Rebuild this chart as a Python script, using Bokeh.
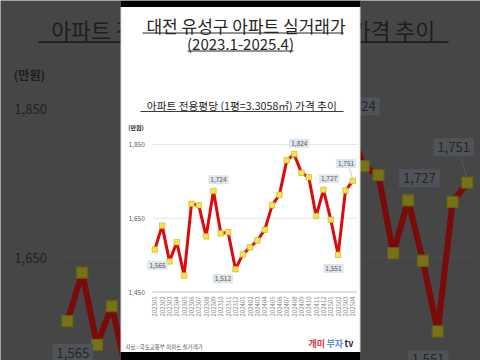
import math
from bokeh.plotting import figure
from bokeh.models import Range1d, ColumnDataSource
from bokeh.embed import file_html
from bokeh.resources import INLINE
from bokeh.core.properties import value

# ---------------- data ----------------
months = ["202301", "202302", "202303", "202304", "202305", "202306",
          "202307", "202308", "202309", "202310", "202311", "202312",
          "202401", "202402", "202403", "202404", "202405", "202406",
          "202407", "202408", "202409", "202410", "202411", "202412",
          "202501", "202502", "202503", "202504"]
prices = [1565, 1630, 1533, 1585, 1495, 1689, 1685, 1601, 1724, 1609, 1612, 1512,
          1552, 1571, 1590, 1619, 1685, 1714, 1807, 1824, 1773, 1761, 1656, 1727,
          1646, 1551, 1725, 1751]
y_ticks = [1450, 1650, 1850]
y_tick_labels = ["1,450", "1,650", "1,850"]
label_idx = [0, 8, 11, 19, 23, 25, 27]
title_line1 = "대전 유성구 아파트 실거래가"
title_line2 = "(2023.1-2025.4)"
chart_title = "아파트 전용평당 (1평=3.3058㎡) 가격 추이"
unit_label = "(만원)"
source_note = "자료 : 국토교통부 아파트 실거래가"
logo_parts = ["개미", "부자", "tv"]

# ---------------- layout / style ----------------
FONT = "Noto Sans CJK KR"
W, H = 480, 360
OX, OY = 0, 0
X0, KX = 154.3, 198.0 / 27      # page x of first month, px per month
Y0, KY, BASE = 291.5, 0.36875, 1450  # page y of base value, px per unit
CX, CY, S = 240.0, 179.0, 2.02   # enlarged blurred background
CARD_L, CARD_R = 120.5, 359.5
label_dx = [2.7, 5, -12.5, 5.2, 5.6, -4.7, -6.8]
label_dy = [15.7, -11.3, 9.7, -10.8, -11, 13.7, -17.5]

p = figure(width=W, height=H, output_backend="svg", toolbar_location=None,
           x_range=Range1d(OX, OX + W), y_range=Range1d(OY + H, OY),
           x_axis_type=None, y_axis_type=None, min_border=0)
p.grid.visible = False
p.outline_line_color = None
p.background_fill_color = "#464646"
p.border_fill_color = "#464646"


def ranges(s):
    x0 = CX + s * (X0 - CX)
    kx = s * KX
    y0 = CY + s * (Y0 - CY)
    ky = s * KY
    xr = Range1d((OX - x0) / kx, (OX + W - x0) / kx)
    yr = Range1d(BASE - (OY + H - y0) / ky, BASE + (y0 - OY) / ky)
    return xr, yr, x0, kx, y0, ky


bxr, byr, BX0, BKX, BY0, BKY = ranges(S)
ixr, iyr, IX0, IKX, IY0, IKY = ranges(1.0)
p.extra_x_ranges = {"bx": bxr, "ix": ixr}
p.extra_y_ranges = {"by": byr, "iy": iyr}


def zx(x, s):
    return CX + s * (x - CX)


def zy(y, s):
    return CY + s * (y - CY)


def draw_chart(xr, yr, s, c, x0, kx, y0, ky):
    x_lo, x_hi = -0.35, 27.6
    p.segment(x0=[x_lo] * 2, x1=[x_hi] * 2, y0=y_ticks[1:], y1=y_ticks[1:],
              x_range_name=xr, y_range_name=yr, line_color=c["grid"], line_width=1 * s)
    p.segment(x0=[x_lo], x1=[x_hi], y0=y_ticks[:1], y1=y_ticks[:1],
              x_range_name=xr, y_range_name=yr, line_color=c["axis"], line_width=1 * s)
    # y tick labels
    p.text(x=[zx(128, s)] * len(y_ticks), y=y_ticks, text=y_tick_labels,
           y_range_name=yr, text_font=value(FONT), text_font_size=f"{6.5 * s:.1f}px",
           text_color=c["tick"], text_align="left", text_baseline="middle")
    # unit
    p.text(x=[zx(135.5, s)], y=[zy(127, s)], text=[unit_label], text_font=value(FONT),
           text_font_size=f"{6 * s:.1f}px", text_font_style="bold", text_color=c["title"],
           text_align="center", text_baseline="middle")
    # chart title + underline
    p.text(x=[zx(241.3, s)], y=[zy(104.5, s)], text=[chart_title], text_font=value(FONT),
           text_font_size=f"{10.7 * s:.1f}px", text_color=c["title"],
           text_align="center", text_baseline="middle")
    p.segment(x0=[zx(140, s)], x1=[zx(343, s)], y0=[zy(111, s)], y1=[zy(111, s)],
              line_color=c["title"], line_width=0.9 * s)
    # leader line for last label
    li = label_idx[-1]
    px = x0 + kx * li
    py = y0 - ky * (prices[li] - BASE)
    p.segment(x0=[px - 3.0 * s], y0=[py - 12.5 * s], x1=[px - 0.3 * s], y1=[py - 2 * s],
              line_color=c["leader"], line_width=0.6 * s)
    # series
    idx = list(range(len(prices)))
    p.line(idx, prices, x_range_name=xr, y_range_name=yr, line_color=c["line"],
           line_width=3 * s, line_join="round")
    p.scatter(idx, prices, x_range_name=xr, y_range_name=yr, marker="square",
              size=5.5 * s, fill_color=c["mfill"], line_color=c["mline"], line_width=0.6 * s)
    # data labels (only those that land on the canvas)
    keep = []
    for k, i in enumerate(label_idx):
        ly = y0 - ky * (prices[i] - BASE) + label_dy[k] * s
        lx = x0 + kx * i + label_dx[k] * s
        if OY <= ly <= OY + H and OX <= lx <= OX + W:
            keep.append(k)
    src = ColumnDataSource(dict(
        x=[label_idx[k] for k in keep], y=[prices[label_idx[k]] for k in keep],
        t=[f"{prices[label_idx[k]]:,}" for k in keep],
        dx=[label_dx[k] * s for k in keep], dy=[label_dy[k] * s for k in keep]))
    p.text(x="x", y="y", text="t", x_offset="dx", y_offset="dy", source=src,
           x_range_name=xr, y_range_name=yr, text_font=value(FONT),
           text_font_size=f"{6.5 * s:.1f}px", text_color=c["lbl_txt"],
           text_align="center", text_baseline="middle",
           background_fill_color=c["lbl_bg"], padding=round(2 * s))


dim = dict(grid="#4a4a4a", axis="#505050", tick="#232323", title="#1e1e1e",
           leader="#565656", line="#7a0b0b", mfill="#77721a", mline="#66600f",
           lbl_bg="#4f5358", lbl_txt="#262626")
draw_chart("bx", "by", S, dim, BX0, BKX, BY0, BKY)

# white card
p.quad(left=[CARD_L], right=[CARD_R], top=[OY], bottom=[OY + H],
       fill_color="white", line_color="#d6d6d6", line_width=1)

bright = dict(grid="#e6e6e6", axis="#bfbfbf", tick="#595959", title="#262626",
              leader="#a6a6a6", line="#dc0a0a", mfill="#f3e54b", mline="#c0ae2a",
              lbl_bg="#dfe5ec", lbl_txt="#595959")
draw_chart("ix", "iy", 1.0, bright, IX0, IKX, IY0, IKY)

# x tick labels (vertical)
p.text(x=list(range(len(months))), y=[296] * len(months), text=months, x_range_name="ix",
       text_font=value(FONT), text_font_size="6px", text_color="#7f7f7f",
       angle=math.pi / 2, text_align="right", text_baseline="middle")

# headline
p.text(x=[245.5], y=[25], text=[title_line1], text_font=value(FONT), text_font_size="17px",
       text_color="#262626", text_align="center", text_baseline="middle")
p.segment(x0=[142], x1=[343], y0=[32.5], y1=[32.5], line_color="#262626", line_width=1)
p.text(x=[240], y=[43.3], text=[title_line2], text_font=value(FONT), text_font_size="15px",
       text_color="#262626", text_align="center", text_baseline="middle")
p.segment(x0=[187], x1=[293], y0=[50.5], y1=[50.5], line_color="#262626", line_width=1)

# footer
p.text(x=[125], y=[346.5], text=[source_note], text_font=value(FONT), text_font_size="5.5px",
       text_color="#555555", text_align="left", text_baseline="middle")
p.text(x=[308, 326, 344], y=[343] * 3, text=logo_parts, text_font=value(FONT),
       text_font_size="9px", text_font_style="bold",
       text_color=["#d8343c", "#5b8fd6", "#1f2a44"], text_align="left", text_baseline="middle")

# letterbox bars over the card column
p.quad(left=[CARD_L - 0.5] * 2, right=[CARD_R + 0.5] * 2, top=[OY, OY + H - 8.5],
       bottom=[OY + 6.5, OY + H], fill_color="black", line_color=None)

open("out.html", "w").write(file_html(p, INLINE))
